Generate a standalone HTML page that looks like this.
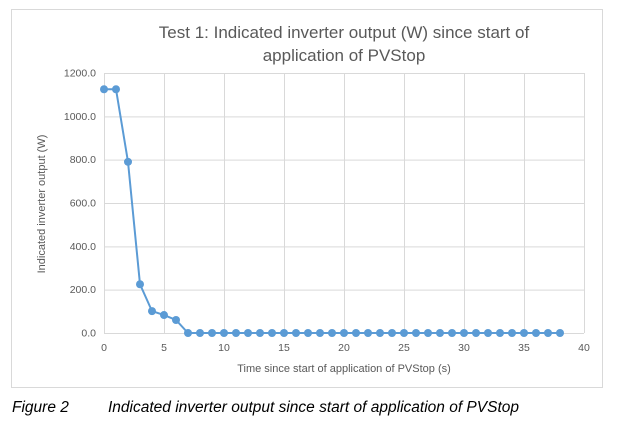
<!DOCTYPE html>
<html><head><meta charset="utf-8"><style>
body{margin:0;width:617px;height:432px;background:#fff;font-family:"Liberation Sans",sans-serif;overflow:hidden}
svg{position:absolute;left:0;top:0}
</style></head><body>
<svg width="617" height="432">
<rect x="11.5" y="9.5" width="591" height="378" fill="#fff" stroke="#d9d9d9"/>
<g id="grid"></g>
<g id="ticks" font-size="10.5" fill="#595959"></g>
<text x="344" y="38" text-anchor="middle" font-size="17" fill="#595959">Test 1: Indicated inverter output (W) since start of</text>
<text x="344" y="61" text-anchor="middle" font-size="17" fill="#595959">application of PVStop</text>
<text transform="translate(45,204) rotate(-90)" text-anchor="middle" font-size="11" fill="#595959">Indicated inverter output (W)</text>
<text x="344" y="372" text-anchor="middle" font-size="11" fill="#595959">Time since start of application of PVStop (s)</text>
<g id="series"></g>
<text x="12" y="412" font-size="15.5" font-style="italic" fill="#000">Figure 2</text>
<text x="108" y="412" font-size="15.5" font-style="italic" fill="#000">Indicated inverter output since start of application of PVStop</text>
</svg>
<script>
const xValues=[0,1,2,3,4,5,6,7,8,9,10,11,12,13,14,15,16,17,18,19,20,21,22,23,24,25,26,27,28,29,30,31,32,33,34,35,36,37,38];
const yValues=[1125,1125,790,225,101,83,60,0,0,0,0,0,0,0,0,0,0,0,0,0,0,0,0,0,0,0,0,0,0,0,0,0,0,0,0,0,0,0,0];
const xTicks=[0,5,10,15,20,25,30,35,40];
const yTicks=[0,200,400,600,800,1000,1200];
const NS="http://www.w3.org/2000/svg";
const X0=104,X1=584,Y0=333,Y1=73;
const sx=v=>X0+(v-0)/(40-0)*(X1-X0);
const sy=v=>Y0-(v-0)/(1200-0)*(Y0-Y1);
const grid=document.getElementById('grid'),ticks=document.getElementById('ticks'),ser=document.getElementById('series');
function mk(t,a){const e=document.createElementNS(NS,t);for(const k in a)e.setAttribute(k,a[k]);return e;}
yTicks.forEach(v=>{
 const l=mk('line',{x1:X0,x2:X1,y1:sy(v)+.5,y2:sy(v)+.5,stroke:'#d9d9d9'});
 
 
 grid.appendChild(l);
 const t=mk('text',{x:X0-8,y:sy(v)+3.5,'text-anchor':'end'});t.textContent=v.toFixed(1);
 
 
 ticks.appendChild(t);
});
xTicks.forEach(v=>{
 const l=mk('line',{x1:sx(v)+.5,x2:sx(v)+.5,y1:Y1,y2:Y0,stroke:'#d9d9d9'});
 
 
 grid.appendChild(l);
 const t=mk('text',{x:sx(v),y:Y0+18,'text-anchor':'middle'});t.textContent=v;
 
 
 ticks.appendChild(t);
});
const pts=xValues.map((x,i)=>sx(x)+','+sy(yValues[i])).join(' ');
const pl=mk('polyline',{points:pts,fill:'none',stroke:'#5b9bd5','stroke-width':2});


ser.appendChild(pl);
xValues.forEach((x,i)=>{
 const c=mk('circle',{cx:sx(x),cy:sy(yValues[i]),r:4,fill:'#5b9bd5'});
 
 
 ser.appendChild(c);
});
</script>
</body></html>
